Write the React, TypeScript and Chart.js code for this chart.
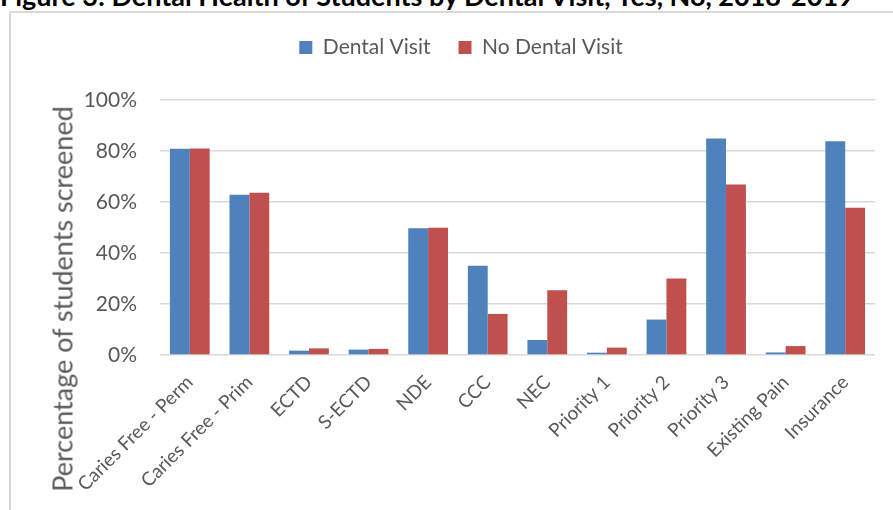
import React, { useEffect, useRef } from "react";
import { Chart, registerables } from "chart.js";

Chart.register(...registerables);

const titleText = "Figure 3: Dental Health of Students by Dental Visit, Yes, No, 2018-2019";
const yAxisTitle = "Percentage of students screened";
const categories = [
  "Caries Free - Perm",
  "Caries Free - Prim",
  "ECTD",
  "S-ECTD",
  "NDE",
  "CCC",
  "NEC",
  "Priority 1",
  "Priority 2",
  "Priority 3",
  "Existing Pain",
  "Insurance",
];
const seriesNames = ["Dental Visit", "No Dental Visit"];
const dentalVisit = [80.9, 62.8, 1.7, 2.1, 49.7, 35.0, 5.9, 0.9, 13.9, 84.9, 1.0, 83.8];
const noDentalVisit = [81.0, 63.6, 2.6, 2.4, 49.9, 16.1, 25.4, 2.9, 30.0, 66.9, 3.5, 57.7];
const yTickValues = [0, 20, 40, 60, 80, 100];

const FONT = "Lato, 'Open Sans', sans-serif";
const TEXT = "#595959";
const GRID = "#d9d9d9";
const BLUE = "#4F81BD";
const RED = "#C0504D";

const legendHeightPlugin = {
  id: "legendHeight",
  beforeLayout(chart: any) {
    const lg = chart.legend;
    if (lg && !lg.__patched) {
      const orig = lg.fit.bind(lg);
      lg.fit = function () {
        orig();
        this.height = 91;
      };
      lg.__patched = true;
    }
  },
};

export default function App() {
  const ref = useRef<HTMLCanvasElement | null>(null);

  useEffect(() => {
    if (!ref.current) return;
    const chart = new Chart(ref.current, {
      type: "bar",
      data: {
        labels: categories,
        datasets: [
          {
            label: seriesNames[0],
            data: dentalVisit,
            backgroundColor: BLUE,
            categoryPercentage: 0.667,
            barPercentage: 1,
          },
          {
            label: seriesNames[1],
            data: noDentalVisit,
            backgroundColor: RED,
            categoryPercentage: 0.667,
            barPercentage: 1,
          },
        ],
      },
      options: {
        responsive: false,
        animation: false,
        devicePixelRatio: 1,
        layout: { padding: { left: 36, right: 18, top: -5, bottom: 0 } },
        plugins: {
          legend: {
            position: "top",
            labels: {
              boxWidth: 13,
              boxHeight: 13,
              padding: 28,
              color: TEXT,
              font: { family: FONT, size: 21 },
            },
          },
          tooltip: { enabled: false },
        },
        scales: {
          x: {
            grid: { display: false, drawTicks: false },
            border: { display: false },
            ticks: {
              color: TEXT,
              font: { family: FONT, size: 19 },
              maxRotation: 45,
              minRotation: 45,
              padding: 16,
              autoSkip: false,
            },
            afterFit(scale: any) {
              scale.height = 155;
            },
          },
          y: {
            min: 0,
            max: 100,
            afterBuildTicks(scale: any) {
              scale.ticks = yTickValues.map((v) => ({ value: v }));
            },
            grid: { color: GRID, lineWidth: 1.5, drawTicks: false },
            border: { display: false },
            ticks: {
              color: TEXT,
              font: { family: FONT, size: 21 },
              padding: 23,
              callback: (v: any) => v + "%",
            },
            afterFit(scale: any) {
              scale.width = 113;
            },
          },
        },
      },
      plugins: [legendHeightPlugin],
    });
    return () => chart.destroy();
  }, []);

  return (
    <div
      style={{
        position: "fixed",
        left: 0,
        top: 0,
        width: 893,
        height: 510,
        overflow: "hidden",
        background: "#fff",
        fontFamily: FONT,
      }}
    >
      <div
        style={{
          position: "absolute",
          left: 0,
          top: -18,
          fontSize: 27,
          lineHeight: "27px",
          fontWeight: 700,
          whiteSpace: "nowrap",
          color: "#000",
        }}
      >
        {titleText}
      </div>
      <div
        style={{
          position: "absolute",
          left: 9,
          top: 11,
          width: 900,
          height: 520,
          border: "2px solid #d9d9d9",
          boxSizing: "border-box",
        }}
      />
      <canvas
        ref={ref}
        width={882}
        height={496}
        style={{ position: "absolute", left: 11, top: 14, width: 882, height: 496 }}
      />
      <div
        style={{
          position: "absolute",
          left: 62,
          top: 299,
          transform: "translate(-50%, -50%) rotate(-90deg)",
          whiteSpace: "nowrap",
          fontSize: 27,
          color: TEXT,
        }}
      >
        {yAxisTitle}
      </div>
    </div>
  );
}
